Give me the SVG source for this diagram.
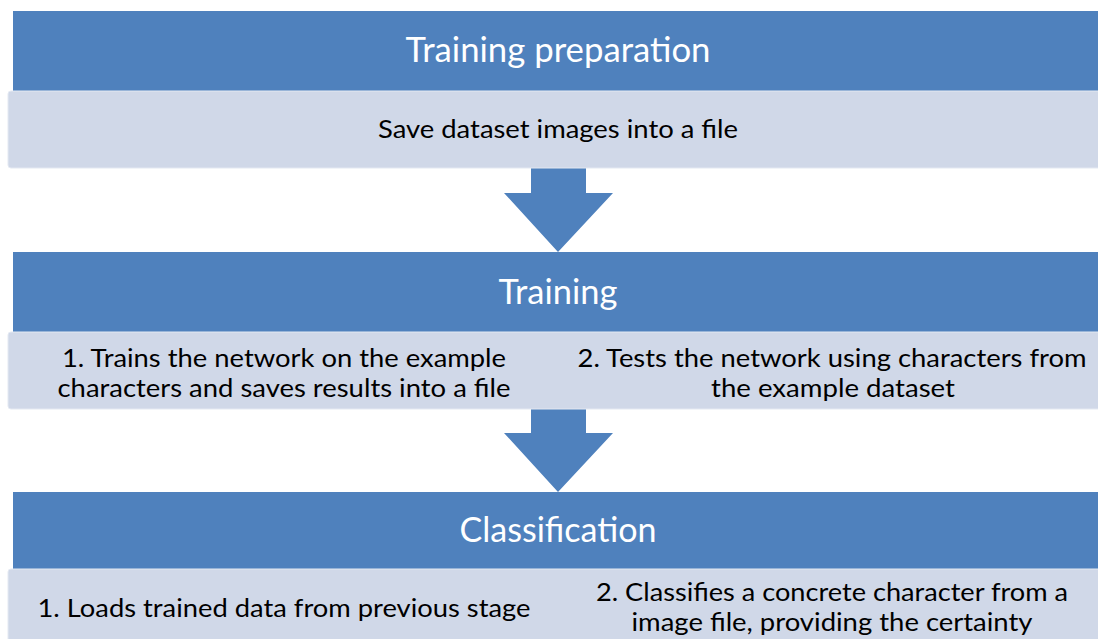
<svg xmlns="http://www.w3.org/2000/svg" width="1098" height="639" viewBox="0 0 1098 639">
  <style>
    .hdr { fill: #4F81BD; }
    .body { fill: #D0D8E8; stroke: #E4E9F2; stroke-width: 1; }
    .arrow { fill: #4F81BD; }
    .ht { font-family: Lato, "Liberation Sans", sans-serif; font-size: 35px; fill: #FFFFFF; text-anchor: middle; }
    .bt { font-family: Lato, "Liberation Sans", sans-serif; font-size: 24.5px; fill: #000000; text-anchor: middle; }
  </style>
  <rect width="1098" height="639" fill="#FFFFFF"/>

  <g id="connectors">
    <polygon class="arrow" points="531,168 586,168 586,193 613,193 558,252 504,193 531,193"/>
    <polygon class="arrow" points="531,409 586,409 586,433 613,433 558,492 504,433 531,433"/>
  </g>

  <g id="stage1">
    <rect class="hdr" x="13" y="11" width="1092" height="80"/>
    <text class="ht" x="558" y="62" textLength="305" lengthAdjust="spacingAndGlyphs">Training preparation</text>
  </g>
  <g id="stage1-body">
    <rect class="body" x="8" y="91" width="1100" height="77" rx="3"/>
    <text class="bt" x="558" y="138" textLength="360" lengthAdjust="spacingAndGlyphs">Save dataset images into a file</text>
  </g>

  <g id="stage2">
    <rect class="hdr" x="13" y="252" width="1092" height="80"/>
    <text class="ht" x="558" y="304" textLength="119" lengthAdjust="spacingAndGlyphs">Training</text>
  </g>
  <g id="stage2-body">
    <rect class="body" x="8" y="332" width="1100" height="77" rx="3"/>
    <text class="bt" x="284" y="367" textLength="444" lengthAdjust="spacingAndGlyphs">1. Trains the network on the example</text>
    <text class="bt" x="284" y="397" textLength="453" lengthAdjust="spacingAndGlyphs">characters and saves results into a file</text>
    <text class="bt" x="832" y="367" textLength="509" lengthAdjust="spacingAndGlyphs">2. Tests the network using characters from</text>
    <text class="bt" x="833" y="397" textLength="244" lengthAdjust="spacingAndGlyphs">the example dataset</text>
  </g>

  <g id="stage3">
    <rect class="hdr" x="13" y="492" width="1092" height="77"/>
    <text class="ht" x="558" y="542" textLength="197" lengthAdjust="spacingAndGlyphs">Classification</text>
  </g>
  <g id="stage3-body">
    <rect class="body" x="8" y="569" width="1100" height="80" rx="3"/>
    <text class="bt" x="284" y="617" textLength="493" lengthAdjust="spacingAndGlyphs">1. Loads trained data from previous stage</text>
    <text class="bt" x="832" y="601" textLength="472" lengthAdjust="spacingAndGlyphs">2. Classifies a concrete character from a</text>
    <text class="bt" x="832" y="631" textLength="401" lengthAdjust="spacingAndGlyphs">image file, providing the certainty</text>
  </g>
</svg>
